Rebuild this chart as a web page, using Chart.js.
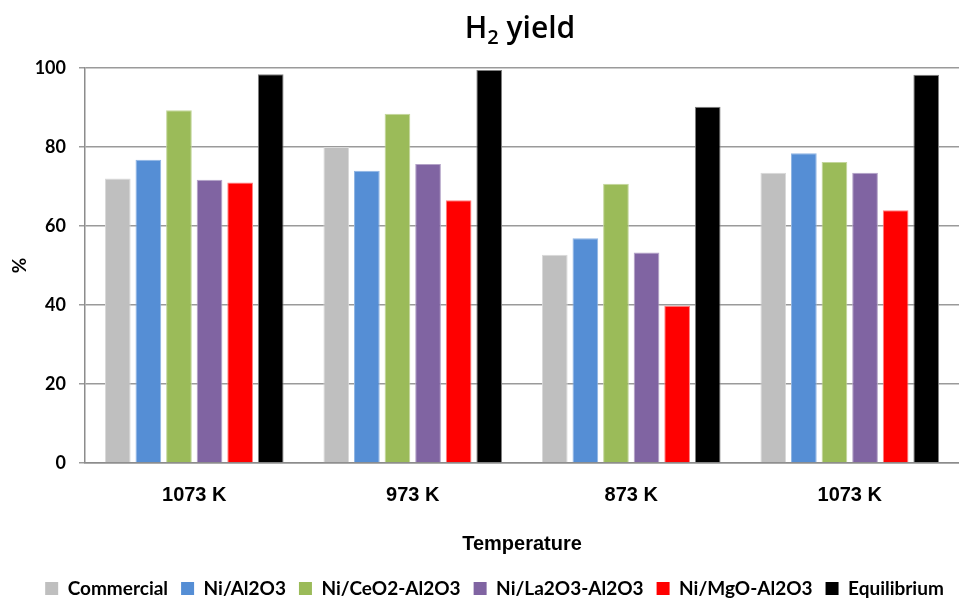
<!DOCTYPE html>
<html>
<head>
<meta charset="utf-8">
<script src="https://cdn.jsdelivr.net/npm/chart.js@4"></script>
<style>
  html, body { margin: 0; padding: 0; background: #fff; }
  #wrap { width: 959px; height: 598px; }
</style>
</head>
<body>
<div id="wrap"><canvas id="H2YieldChart"></canvas></div>
<script>
// categories (x axis)
const temperatures = ['1073 K', '973 K', '873 K', '1073 K'];

// H2 yield (%) for each catalyst
const commercial = [72.0, 80.0, 52.7, 73.5];
const ni_al2o3 = [76.8, 74.0, 56.9, 78.4];
const ni_ceo2_al2o3 = [89.3, 88.4, 70.7, 76.2];
const ni_la2o3_al2o3 = [71.7, 75.7, 53.3, 73.5];
const ni_mgo_al2o3 = [71.0, 66.5, 39.8, 64.0];
const equilibrium = [98.4, 99.5, 90.2, 98.3];

const yTicks = [0, 20, 40, 60, 80, 100];

// タイトル（H2 の 2 を下付きで描く）
const titlePlugin = {
  id: 'subTitle',
  afterDraw(chart) {
    const ctx = chart.ctx;
    const big = '600 30px "Open Sans", Lato, sans-serif';
    const small = '600 20px "Open Sans", Lato, sans-serif';
    ctx.save();
    ctx.fillStyle = '#000';
    ctx.textBaseline = 'alphabetic';
    ctx.font = big;
    const wH = ctx.measureText('H').width;
    const wRest = ctx.measureText(' yield').width;
    ctx.font = small;
    const w2 = ctx.measureText('2').width;
    const cx = (chart.chartArea.left + chart.chartArea.right) / 2 - 2;
    let x = cx - (wH + w2 + wRest) / 2;
    const y = 38;
    ctx.font = big;
    ctx.fillText('H', x, y);
    x += wH;
    ctx.font = small;
    ctx.fillText('2', x, y + 6);
    x += w2;
    ctx.font = big;
    ctx.fillText(' yield', x, y);
    ctx.restore();
  }
};

function DrawChart() {
  let ctx = document.getElementById('H2YieldChart');
  new Chart(ctx, {
    type: 'bar',
    data: {
      labels: temperatures,
      datasets: [
        { label: 'Commercial', data: commercial, backgroundColor: '#BFBFBF', borderColor: '#D9D9D9' },
        { label: 'Ni/Al2O3', data: ni_al2o3, backgroundColor: '#558ED5', borderColor: '#8EB4E3' },
        { label: 'Ni/CeO2-Al2O3', data: ni_ceo2_al2o3, backgroundColor: '#9BBB59', borderColor: '#C3D69B' },
        { label: 'Ni/La2O3-Al2O3', data: ni_la2o3_al2o3, backgroundColor: '#8064A2', borderColor: '#B3A2C7' },
        { label: 'Ni/MgO-Al2O3', data: ni_mgo_al2o3, backgroundColor: '#FF0000', borderColor: '#FF8080' },
        { label: 'Equilibrium', data: equilibrium, backgroundColor: '#000000', borderColor: '#7F7F7F' }
      ]
    },
    options: {
      responsive: true,
      maintainAspectRatio: false,
      animation: false,
      datasets: {
        bar: { borderWidth: 1, categoryPercentage: 0.84, barPercentage: 0.84 }
      },
      // 左の余白は凡例を右へ寄せるため（y軸の幅で相殺）
      layout: { padding: { top: 68, right: 0, left: 30, bottom: -10 } },
      plugins: {
        title: { display: false },
        tooltip: { enabled: false },
        legend: {
          position: 'bottom',
          labels: {
            boxWidth: 13,
            boxHeight: 13,
            padding: 13,
            color: '#000',
            font: { family: 'Lato, "Open Sans", sans-serif', size: 19, weight: 'bold' },
            generateLabels(chart) {
              return chart.data.datasets.map((ds, i) => ({
                text: ds.label,
                fillStyle: ds.backgroundColor,
                strokeStyle: ds.backgroundColor,
                lineWidth: 0,
                datasetIndex: i
              }));
            }
          }
        }
      },
      scales: {
        x: {
          grid: { display: false },
          border: { display: true, color: '#8C8C8C', width: 1.5 },
          ticks: {
            color: '#000',
            padding: 12,
            font: { family: '"Liberation Sans", Arial, sans-serif', size: 20, weight: 'bold' }
          },
          title: {
            display: true,
            text: 'Temperature',
            color: '#000',
            padding: { top: 0, bottom: 10 },
            font: { family: '"Liberation Sans", Arial, sans-serif', size: 20, weight: 'bold' }
          },
          afterFit(scale) { scale.height = 103; }
        },
        y: {
          min: 0,
          max: 100,
          afterBuildTicks(scale) { scale.ticks = yTicks.map(v => ({ value: v })); },
          grid: { color: '#9A9A9A', lineWidth: 1.5, drawTicks: true, tickLength: 6 },
          border: { display: true, color: '#8C8C8C', width: 1.5 },
          ticks: {
            color: '#000',
            padding: 13,
            font: { family: 'Lato, "Open Sans", sans-serif', size: 18, weight: 'bold' }
          },
          title: {
            display: true,
            text: '%',
            color: '#000',
            padding: { top: -22, bottom: 0 },
            font: { family: 'Lato, "Open Sans", sans-serif', size: 19, weight: 'bold' }
          },
          afterFit(scale) { scale.width = 55; }
        }
      }
    },
    plugins: [titlePlugin]
  });
}

DrawChart();
</script>
</body>
</html>
